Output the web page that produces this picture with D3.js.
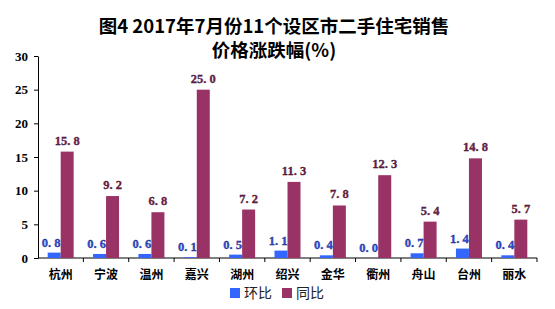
<!DOCTYPE html>
<html>
<head>
<meta charset="utf-8">
<script src="https://cdn.jsdelivr.net/npm/d3@7"></script>
<style>
body{margin:0;background:#fff;}
</style>
</head>
<body>
<script>
// data
var cities=["杭州","宁波","温州","嘉兴","湖州","绍兴","金华","衢州","舟山","台州","丽水"];
var huanbi=[0.8,0.6,0.6,0.1,0.5,1.1,0.4,0.0,0.7,1.4,0.4];
var tongbi=[15.8,9.2,6.8,25.0,7.2,11.3,7.8,12.3,5.4,14.8,5.7];
var yTicks=[0,5,10,15,20,25,30];
var titleLines=["图4  2017年7月份11个设区市二手住宅销售","价格涨跌幅(%)"];
var seriesNames=["环比","同比"];

var W=555,H=309;
var blue="#3366ff",red="#993366";
var cjk="'Noto Sans CJK SC','Noto Sans',sans-serif";
var serif="'Liberation Serif','DejaVu Serif',serif";

var svg=d3.select("body").append("svg").attr("width",W).attr("height",H);

var x=d3.scaleBand().domain(cities).range([38,537]);
var y=d3.scaleLinear().domain([0,30]).range([258,56]);
var barW=13;

// title
svg.selectAll("text.title").data(titleLines).enter().append("text")
  .attr("class","title")
  .attr("x",274).attr("y",function(d,i){return 33+i*24;})
  .attr("text-anchor","middle")
  .attr("font-family",cjk).attr("font-weight","bold").attr("font-size",18.5)
  .attr("fill","#000")
  .text(function(d){return d;});

// y axis
var yAxis=svg.append("g").attr("transform","translate(38,0)")
  .call(d3.axisLeft(y).tickValues(yTicks).tickSize(4).tickSizeOuter(0).tickPadding(6));
yAxis.select(".domain").attr("stroke","#000");
yAxis.selectAll("text").attr("font-family",serif).attr("font-weight","bold").attr("font-size",13).attr("fill","#000");

// x axis line
svg.append("line").attr("x1",38).attr("x2",537).attr("y1",y(0)).attr("y2",y(0)).attr("stroke","#000");
var bounds=cities.map(function(c){return x(c)+x.bandwidth();});
svg.selectAll("line.xt").data(bounds).enter().append("line").attr("class","xt")
  .attr("x1",function(d){return d;}).attr("x2",function(d){return d;})
  .attr("y1",y(0)).attr("y2",y(0)+4).attr("stroke","#000");

svg.selectAll("text.cat").data(cities).enter().append("text").attr("class","cat")
  .attr("x",function(d){return x(d)+x.bandwidth()/2;}).attr("y",279)
  .attr("text-anchor","middle")
  .attr("font-family",cjk).attr("font-weight","bold").attr("font-size",12)
  .text(function(d){return d;});

// bars
var fmt=function(v){return d3.format(".1f")(v).replace(".",". ");};
function cx(c){return x(c)+x.bandwidth()/2;}

svg.selectAll("rect.hb").data(huanbi).enter().append("rect").attr("class","hb")
  .attr("x",function(d,i){return cx(cities[i])-barW;})
  .attr("y",function(d){return y(d);})
  .attr("width",barW).attr("height",function(d){return y(0)-y(d);})
  .attr("fill",blue);
svg.selectAll("rect.tb").data(tongbi).enter().append("rect").attr("class","tb")
  .attr("x",function(d,i){return cx(cities[i]);})
  .attr("y",function(d){return y(d);})
  .attr("width",barW).attr("height",function(d){return y(0)-y(d);})
  .attr("fill",red);

// labels
svg.selectAll("text.hl").data(huanbi).enter().append("text").attr("class","hl")
  .attr("x",function(d,i){return cx(cities[i])-barW/2-3;})
  .attr("y",function(d){return y(d)-6;})
  .attr("text-anchor","middle")
  .attr("font-family",serif).attr("font-weight","bold").attr("font-size",12.5)
  .attr("fill","#2a4fd8").attr("stroke","#1a1a66").attr("stroke-width",0.3)
  .text(function(d){return fmt(d);});
svg.selectAll("text.tl").data(tongbi).enter().append("text").attr("class","tl")
  .attr("x",function(d,i){return cx(cities[i])+barW/2;})
  .attr("y",function(d){return y(d)-7;})
  .attr("text-anchor","middle")
  .attr("font-family",serif).attr("font-weight","bold").attr("font-size",12.5)
  .attr("fill","#7a1f4f").attr("stroke","#2a0a20").attr("stroke-width",0.3)
  .text(function(d){return fmt(d);});

// legend
var leg=svg.selectAll("g.leg").data(seriesNames).enter().append("g").attr("class","leg")
  .attr("transform",function(d,i){return "translate("+(230+i*52)+",288)";});
leg.append("rect").attr("width",10).attr("height",10)
  .attr("fill",function(d,i){return i?red:blue;});
leg.append("text").attr("x",14).attr("y",10)
  .attr("font-family",cjk).attr("font-size",14).attr("fill","#222")
  .text(function(d){return d;});
</script>
</body>
</html>
